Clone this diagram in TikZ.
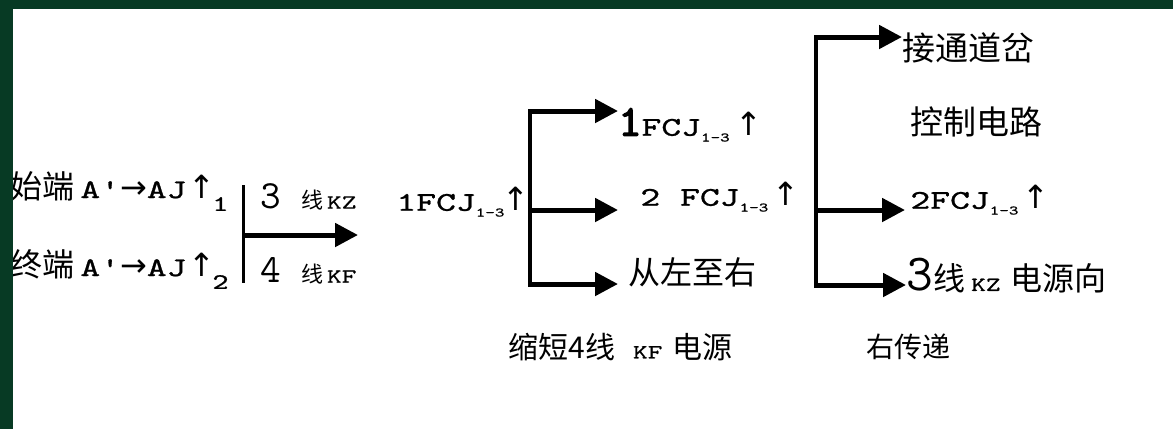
\documentclass[tikz,border=0pt]{standalone}
\usepackage{fontspec}
\newfontfamily\cjk{Noto Sans CJK SC}
\newfontfamily\sym{DejaVu Sans}
\newfontfamily\lat{lmmono10-regular.otf}[FakeStretch=1.4,FakeBold=1]
\newfontfamily\latb{lmmono10-regular.otf}[FakeBold=3]
\usetikzlibrary{arrows.meta}
\definecolor{framegreen}{HTML}{073A24}
\newcommand\fsz[1]{\fontsize{#1}{#1}\selectfont}
\newcommand\sub[1]{\raisebox{-0.5ex}{\lat\fsz{6.5}#1}}
\newcommand\up{{\sym\fsz{16}↑}}
\begin{document}
\begin{tikzpicture}[x=0.5pt,y=-0.5pt,
  txt/.style={inner sep=0pt,anchor=west,font=\lat\fsz{13.5}},
  arr/.style={line width=2.5pt,-{Triangle[length=11.5pt,width=11.5pt]}},
  thinbar/.style={line width=1.5pt},
  bar/.style={line width=2pt}]
\fill[white] (0,0) rectangle (1173,429);
\useasboundingbox (0,0) rectangle (1173,429);
% left group
\node[txt] (s1) at (10,191) {{\cjk\fsz{16}始端}\hspace{3pt}\fsz{13.5}A'{\sym\fsz{16}→}AJ\hspace{1pt}\up\hspace{-1.5pt}\raisebox{-1.1ex}{\lat\fsz{11}1}};
\node[txt] (s2) at (10,269) {{\cjk\fsz{16}终端}\hspace{3pt}\fsz{13.5}A'{\sym\fsz{16}→}AJ\hspace{1pt}\up\hspace{-1.5pt}\raisebox{-1.1ex}{\lat\fsz{11}2}};
\node[txt] (k3) at (260,197) {{\ttfamily\fsz{20}3}\hspace{10pt}{\cjk\fsz{11}线}\hspace{2pt}{\fsz{10}KZ}};
\node[txt] (k4) at (260,271) {{\ttfamily\fsz{20}4}\hspace{10pt}{\cjk\fsz{11}线}\hspace{2pt}{\fsz{10}KF}};
\coordinate (a0) at (243,185);
\coordinate (a1) at (243,283);
\coordinate (a2) at (242,235);
\coordinate (a3) at (358,235);
\draw[thinbar] (a0) -- (a1);
\draw[arr] (a2) -- (a3);
% middle group
\node[txt] (m0) at (396,202) {1FCJ\sub{1-3}\hspace{-1pt}\up};
\node[txt] (m1) at (618,125) {{\latb\fsz{22}1}FCJ\sub{1-3}\hspace{3pt}\up};
\node[txt] (m2) at (640,197) {2 FCJ\sub{1-3}\hspace{2pt}\up};
\node[txt] (m3) at (628,272) {\cjk\fsz{16}从左至右};
\node[txt] (m4) at (508,347) {\cjk\fsz{15}缩短4线\hspace{9pt}{\lat\fsz{10}KF}\hspace{5pt}电源};
\coordinate (b0) at (530,109);
\coordinate (b1) at (530,286);
\coordinate (b2) at (528,111);
\coordinate (b3) at (528,210);
\coordinate (b4) at (528,284);
\draw[bar] (b0) -- (b1);
\draw[arr] (b2) -- (b2 -| m1.west);
\draw[arr] (b3) -- ([xshift=-11pt]b3 -| m2.west);
\draw[arr] (b4) -- ([xshift=-5pt]b4 -| m3.west);
% right group
\node[txt] (r1) at (902,48) {\cjk\fsz{16.5}接通道岔};
\node[txt] (r2) at (910,122) {\cjk\fsz{16.5}控制电路};
\node[txt] (r3) at (910,200) {2FCJ\sub{1-3}\hspace{2pt}\up};
\node[txt] (r4) at (906,276) {{\ttfamily\fsz{26}3}{\cjk\fsz{16}线}\hspace{3pt}{\fsz{10}KZ}\hspace{5pt}{\cjk\fsz{16}电源向}};
\node[txt] (r5) at (866,347) {\cjk\fsz{14}右传递};
\coordinate (c0) at (816,35);
\coordinate (c1) at (816,287);
\coordinate (c2) at (814,37);
\coordinate (c3) at (814,210);
\coordinate (c4) at (814,285);
\draw[bar] (c0) -- (c1);
\draw[arr] (c2) -- (c2 -| r1.west);
\draw[arr] (c3) -- ([xshift=-2.5pt]c3 -| r3.west);
\draw[arr] (c4) -- (c4 -| r4.west);
% frame
\fill[framegreen] (0,0) rectangle (1173,9);
\fill[framegreen] (0,0) rectangle (13,429);
\end{tikzpicture}
\end{document}
